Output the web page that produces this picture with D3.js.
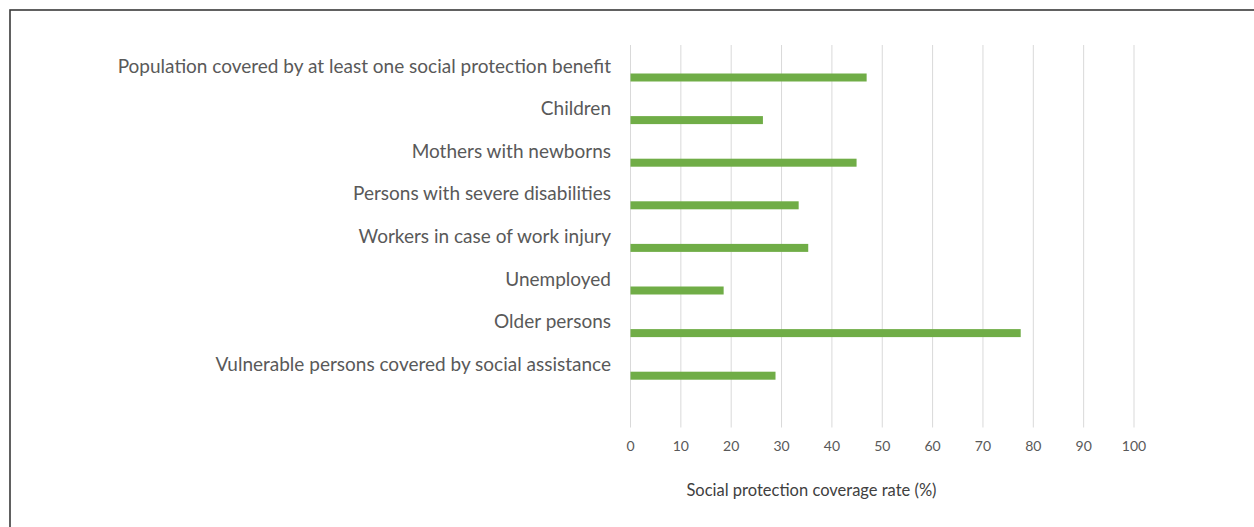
<html>
  <head>
    <script type="text/javascript" src="https://d3js.org/d3.v7.min.js"></script>
    <style type="text/css">
      body { margin: 0; background: #fff; }
      text { font-family: Lato, "Open Sans", sans-serif; }
    </style>
  </head>
  <body>
    <script type="text/javascript">
      //Data
      var categories = [
        "Population covered by at least one social protection benefit",
        "Children",
        "Mothers with newborns",
        "Persons with severe disabilities",
        "Workers in case of work injury",
        "Unemployed",
        "Older persons",
        "Vulnerable persons covered by social assistance"
      ];
      var values = [46.9, 26.3, 44.9, 33.4, 35.3, 18.5, 77.5, 28.8];
      var ticks = [0, 10, 20, 30, 40, 50, 60, 70, 80, 90, 100];

      //Width and height
      var w = 1254;
      var h = 527;

      var svg = d3.select("body")
            .append("svg")
            .attr("width", w)
            .attr("height", h);

      //Frame
      svg.append("rect")
        .attr("x", 10).attr("y", 10)
        .attr("width", w + 20).attr("height", h + 20)
        .attr("fill", "none")
        .attr("stroke", "#3a3a3a")
        .attr("stroke-width", 1.6);

      //Scales
      var x = d3.scaleLinear().domain([0, 100]).range([630.5, 1134]);
      var y = d3.scalePoint().domain(categories).range([77.5, 375.7]);

      //Gridlines
      svg.append("g")
        .selectAll("line")
        .data(ticks)
        .enter()
        .append("line")
        .attr("x1", d => x(d)).attr("x2", d => x(d))
        .attr("y1", 45).attr("y2", 427.5)
        .attr("stroke", "#d9d9d9")
        .attr("stroke-width", 1);

      //Tick labels
      svg.append("g")
        .selectAll("text")
        .data(ticks)
        .enter()
        .append("text")
        .attr("x", d => x(d))
        .attr("y", 451)
        .attr("text-anchor", "middle")
        .attr("fill", "#595959")
        .style("font-size", "14px")
        .text(d => d);

      //Bars
      svg.append("g")
        .selectAll("rect")
        .data(values)
        .enter()
        .append("rect")
        .attr("x", x(0))
        .attr("y", (d, i) => y(categories[i]) - 4)
        .attr("width", d => x(d) - x(0))
        .attr("height", 8)
        .attr("fill", "#70ad47");

      //Category labels
      svg.append("g")
        .selectAll("text")
        .data(categories)
        .enter()
        .append("text")
        .attr("x", 611)
        .attr("y", d => y(d) - 5)
        .attr("text-anchor", "end")
        .attr("fill", "#595959")
        .style("font-size", "19px")
        .text(d => d);

      //Axis title
      svg.append("text")
        .attr("x", 811.5)
        .attr("y", 496)
        .attr("text-anchor", "middle")
        .attr("fill", "#404040")
        .style("font-size", "16.5px")
        .text("Social protection coverage rate (%)");
    </script>
  </body>
</html>
